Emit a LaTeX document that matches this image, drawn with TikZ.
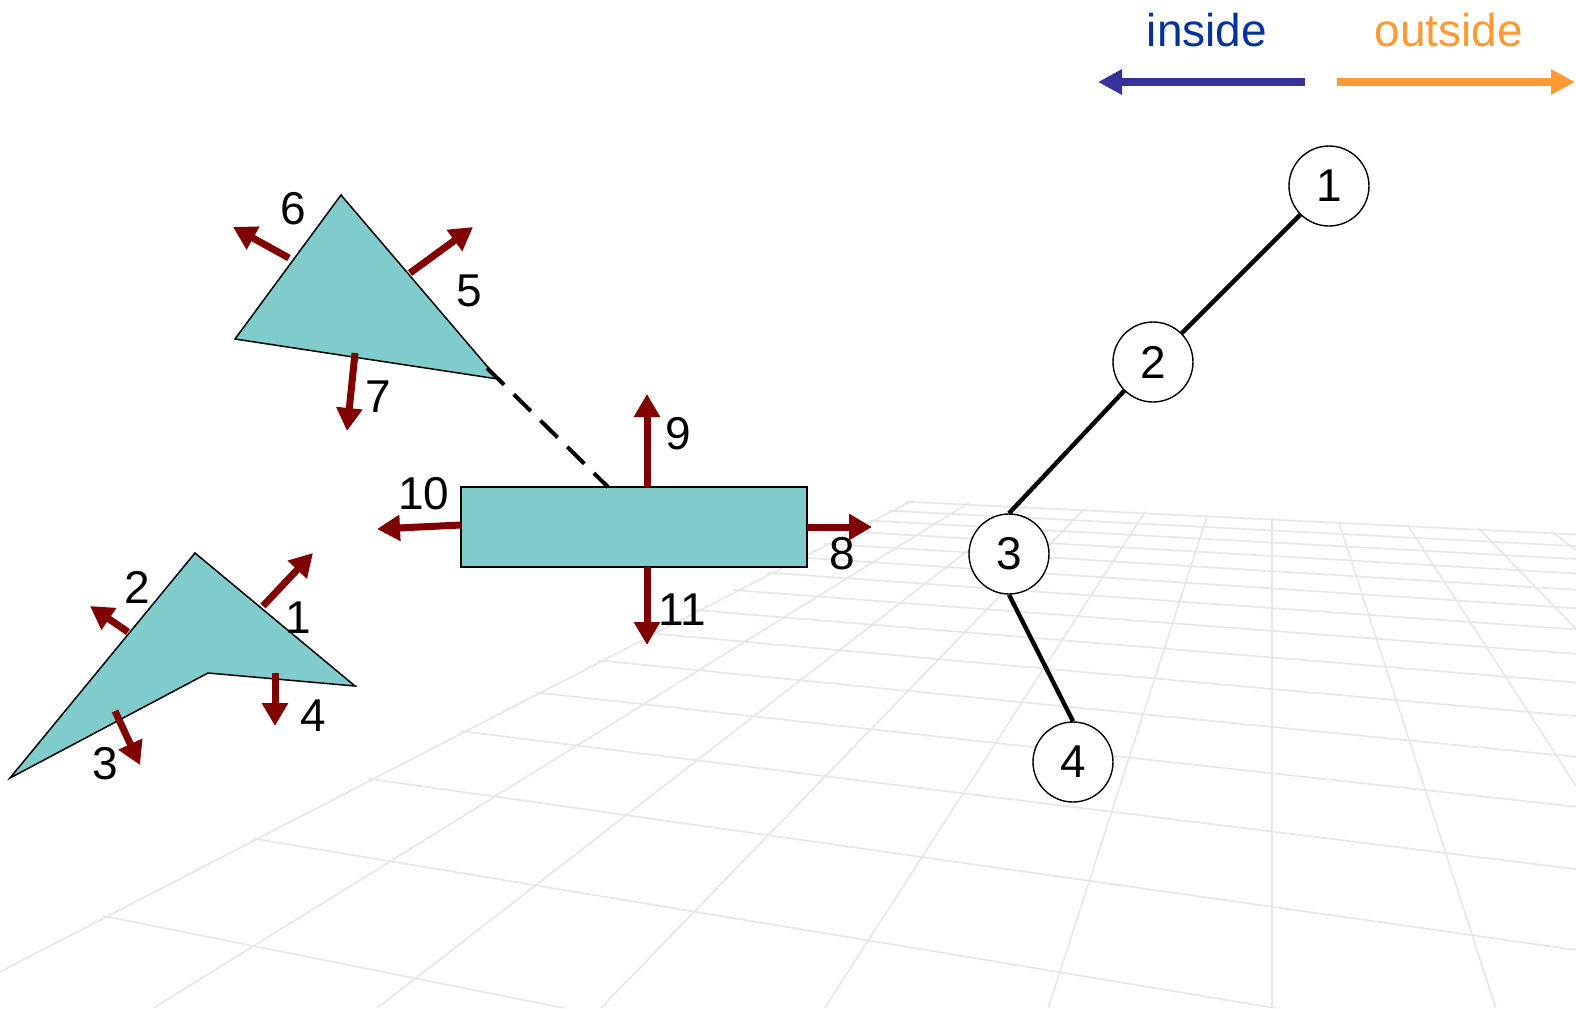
\documentclass[tikz,border=0pt]{standalone}
\usepackage{fontspec}
\setmainfont{Liberation Sans}
\usetikzlibrary{arrows.meta}
\definecolor{facefill}{HTML}{80CCCC}
\definecolor{normred}{HTML}{800000}
\definecolor{intext}{HTML}{003399}
\definecolor{inarrow}{HTML}{333399}
\definecolor{outorange}{HTML}{FF9933}
\definecolor{gridgray}{HTML}{E6E6E6}
\begin{document}
\begin{tikzpicture}[x=0.5pt,y=-0.5pt,
  every node/.style={font=\fontsize{23}{27}\selectfont,inner sep=0pt},
  face/.style={draw=black,fill=facefill,line width=0.75pt},
  normal/.style={normred,line width=3.5pt,-{Triangle[width=12.5pt,length=11.5pt]}},
  legend/.style={line width=4pt,-{Triangle[width=12pt,length=12pt]}},
  gridline/.style={gridgray,line width=0.8pt},
  vert/.style={circle,draw,fill=white,line width=0.7pt,minimum size=40pt},
  branch/.style={line width=2.2pt}]
  \fill[white] (0,0) rectangle (1576,1008);
  \useasboundingbox (0,0) rectangle (1576,1008);
  % floor grid in perspective
  \begin{scope}
    \clip (908,500) -- (1576,532.5) -- (1576,1008) -- (-76,1008) -- cycle;
    \foreach \k in {-6,...,4}
      \draw[gridline] (1272,315) -- ({1272+223.7*\k},1008);
    \foreach \n in {0,...,15}
      \draw[gridline] (-2900,315) -- (1576,{315+1072.87/(4.888-0.246*\n)});
  \end{scope}
  % legend
  \node[text=intext] (inlab) at (1207,30) {inside};
  \node[text=outorange] (outlab) at (1449,30) {outside};
  \draw[legend,inarrow] (1305,82) -- (1098,82);
  \draw[legend,outorange] (1337,82) -- (1575,82);
  % upper triangle
  \draw[face] (341,195) -- (235,339) -- (498,379) -- cycle;
  \coordinate (dashstart) at (487,368);
  \draw[normal] (289,258) -- (233,227);
  \draw[normal] (410,273) -- (473,227);
  \draw[normal] (355,353) -- (347,431);
  \node (lab6) at (293,209) {6};
  \node (lab5) at (469,291) {5};
  \node (lab7) at (378,397) {7};
  % box
  \node[face,minimum width=173pt,minimum height=40pt] (rect) at (634,527) {};
  \coordinate (dashend) at (608,487);
  \draw[line width=2pt,dash pattern=on 12pt off 6.75pt] (dashstart) -- (dashend);
  \draw[normal] (647,487) -- (647,394);
  \draw[normal] (647,567) -- (647,645);
  \draw[normal] (461,525) -- (377,529);
  \draw[normal] (807,527) -- (872,527);
  \node (lab9) at (678,434) {9};
  \node (lab10) at (424,494) {10};
  \node (lab11) at (682,610) {11};
  \node (lab8) at (842,554) {8};
  % lower shape
  \draw[face] (195,553) -- (355,686) -- (208,673) -- (10,778) -- cycle;
  \draw[normal] (263,606) -- (313,553);
  \draw[normal] (128,632) -- (90,606);
  \draw[normal] (275,673) -- (275,726);
  \draw[normal] (115,711) -- (140,765);
  \node (lab2) at (137,587) {2};
  \node (lab1) at (298,618) {1};
  \node (lab4) at (313,716) {4};
  \node (lab3) at (105,764) {3};
  % tree
  \node[vert] (n1) at (1329,186) {1};
  \node[vert] (n2) at (1153,362) {2};
  \node[vert] (n3) at (1009,554) {3};
  \node[vert] (n4) at (1073,762) {4};
  \draw[branch] (n1) -- (n2);
  \draw[branch] (n2.225) -- (n3.north);
  \draw[branch] (n3.south) -- (n4.north);
\end{tikzpicture}
\end{document}
